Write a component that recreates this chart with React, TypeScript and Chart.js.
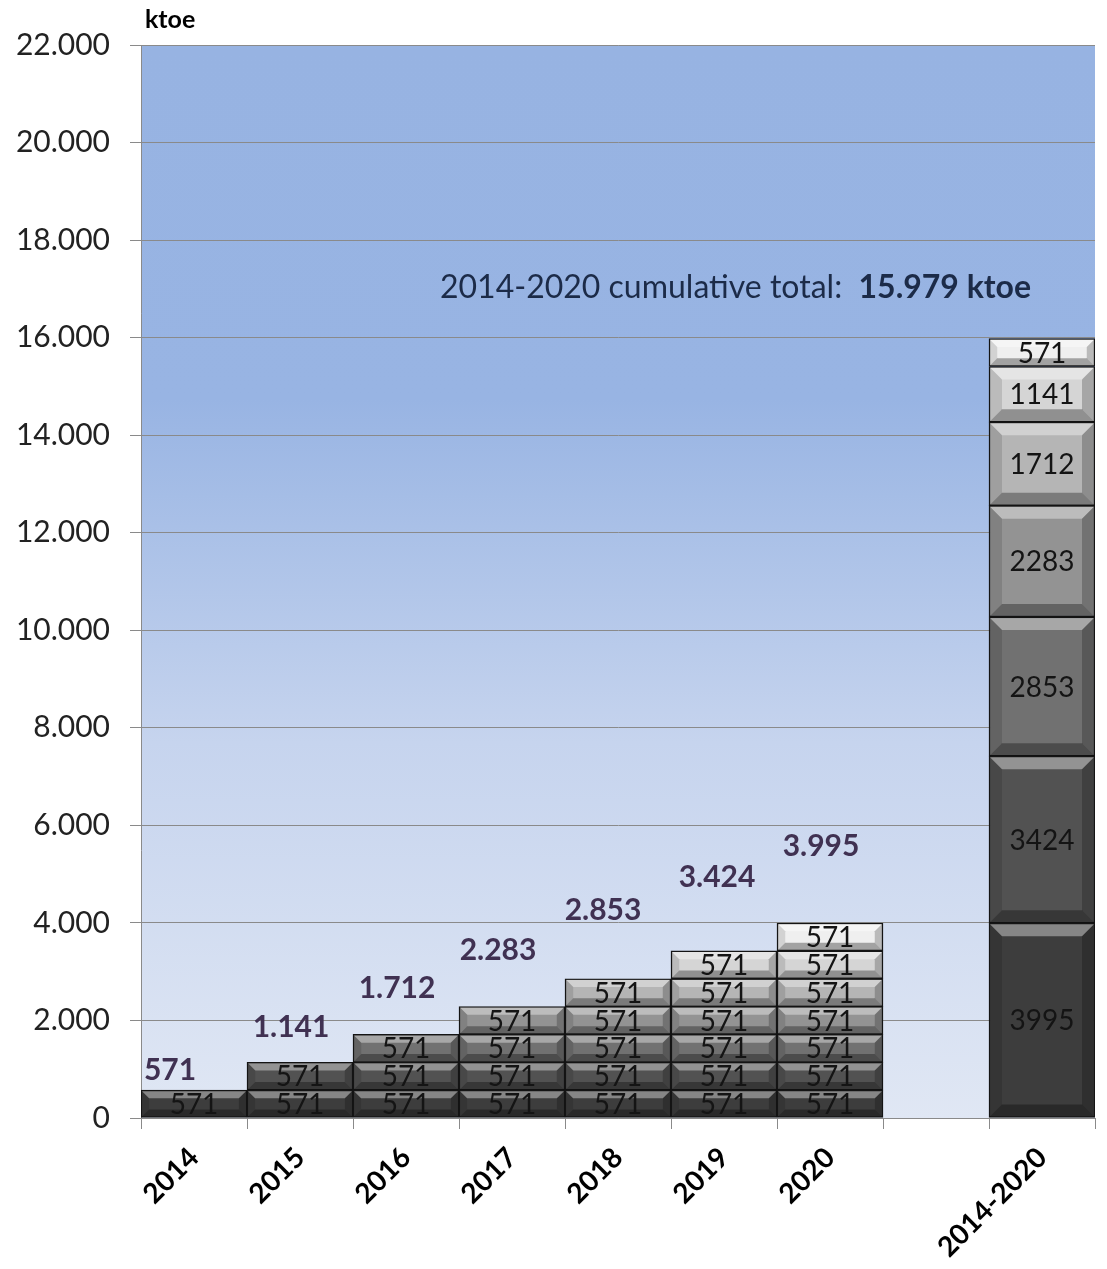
import React, { useEffect, useRef } from "react";
import { Chart, registerables } from "chart.js";

Chart.register(...registerables);

// ---- data ----
const categories = ["2014", "2015", "2016", "2017", "2018", "2019", "2020", "", "2014-2020"];
const yearCount = 7;
// yearly savings layer introduced in each year (repeats in later years)
const yearLayerValues = [571, 571, 571, 571, 571, 571, 571];
// cumulative 2014-2020 contribution of each layer (bottom to top)
const cumulativeLayerValues = [3995, 3424, 2853, 2283, 1712, 1141, 571];
const yearTotalLabels = ["571", "1.141", "1.712", "2.283", "2.853", "3.424", "3.995"];
const cumulativeTotalLabel = "15.979";
const yMin = 0;
const yMax = 22000;
const yStep = 2000;

// ---- styles ----
const layerColors = ["#3d3d3d", "#525252", "#717171", "#939393", "#b5b5b5", "#d5d5d5", "#efefef"];
const totalLabelDx = [-24, -9, -9, -14, -15, -7, -9];
const totalLabelDy = [20, 35, 46, 56, 68, 74, 77];
const FONT = "Lato, 'Open Sans', sans-serif";

const fmt = (v: number) => {
  const s = Math.round(v).toString();
  return s.replace(/\B(?=(\d{3})+(?!\d))/g, ".");
};

const datasets = cumulativeLayerValues.map((cum, j) => ({
  label: "layer " + (j + 1),
  data: categories.map((_, k) => {
    if (k < yearCount) return k >= j ? yearLayerValues[j] : null;
    if (k === categories.length - 1) return cum;
    return null;
  }),
  backgroundColor: layerColors[j],
  borderColor: "#141414",
  borderWidth: 1.5,
  borderSkipped: false as const,
  barPercentage: 1,
  categoryPercentage: 1,
  stack: "s",
}));

const backgroundPlugin = {
  id: "bgGradient",
  beforeDraw(chart: any) {
    const { ctx, chartArea } = chart;
    if (!chartArea) return;
    const g = ctx.createLinearGradient(0, chartArea.top, 0, chartArea.bottom);
    g.addColorStop(0, "#97b3e2");
    g.addColorStop(0.33, "#98b4e3");
    g.addColorStop(0.65, "#c6d4ee");
    g.addColorStop(1, "#e0e7f4");
    ctx.save();
    ctx.fillStyle = g;
    ctx.fillRect(chartArea.left, chartArea.top, chartArea.right - chartArea.left, chartArea.bottom - chartArea.top);
    ctx.restore();
  },
};

const bevelPlugin = {
  id: "bevelLabels",
  afterDatasetsDraw(chart: any) {
    const { ctx, chartArea } = chart;
    ctx.save();
    chart.data.datasets.forEach((ds: any, di: number) => {
      const meta = chart.getDatasetMeta(di);
      meta.data.forEach((el: any, i: number) => {
        const v = ds.data[i];
        if (v == null) return;
        const p = el.getProps(["x", "y", "base", "width"], true);
        const left = p.x - p.width / 2 + 1;
        const right = p.x + p.width / 2 - 1;
        const top = Math.min(p.y, p.base) + 1;
        const bottom = Math.max(p.y, p.base) - 1;
        const h = bottom - top;
        const b = Math.min(12, h * 0.28);
        // top bevel
        ctx.fillStyle = "rgba(255,255,255,0.38)";
        ctx.beginPath();
        ctx.moveTo(left, top);
        ctx.lineTo(right, top);
        ctx.lineTo(right - b, top + b);
        ctx.lineTo(left + b, top + b);
        ctx.closePath();
        ctx.fill();
        // bottom bevel
        ctx.fillStyle = "rgba(0,0,0,0.32)";
        ctx.beginPath();
        ctx.moveTo(left, bottom);
        ctx.lineTo(right, bottom);
        ctx.lineTo(right - b, bottom - b);
        ctx.lineTo(left + b, bottom - b);
        ctx.closePath();
        ctx.fill();
        // left bevel
        ctx.fillStyle = "rgba(0,0,0,0.12)";
        ctx.beginPath();
        ctx.moveTo(left, top);
        ctx.lineTo(left + b, top + b);
        ctx.lineTo(left + b, bottom - b);
        ctx.lineTo(left, bottom);
        ctx.closePath();
        ctx.fill();
        // right bevel
        ctx.fillStyle = "rgba(0,0,0,0.22)";
        ctx.beginPath();
        ctx.moveTo(right, top);
        ctx.lineTo(right - b, top + b);
        ctx.lineTo(right - b, bottom - b);
        ctx.lineTo(right, bottom);
        ctx.closePath();
        ctx.fill();
        // value label
        ctx.fillStyle = "#141414";
        ctx.font = "28px " + FONT;
        ctx.textAlign = "center";
        ctx.textBaseline = "middle";
        ctx.fillText(String(v), p.x, (top + bottom) / 2 + 1);
      });
    });

    // year totals above bars
    ctx.fillStyle = "#403152";
    ctx.font = "bold 30px " + FONT;
    ctx.textAlign = "center";
    ctx.textBaseline = "middle";
    for (let k = 0; k < yearCount; k++) {
      const el = chart.getDatasetMeta(k).data[k];
      if (!el) continue;
      ctx.fillText(yearTotalLabels[k], el.x + totalLabelDx[k], el.y - totalLabelDy[k]);
    }

    // cumulative total annotation
    const yScale = chart.scales.y;
    const ay = yScale.getPixelForValue(17020);
    const ax = chartArea.left + 299;
    ctx.textAlign = "left";
    ctx.fillStyle = "#1c2b48";
    ctx.font = "32px " + FONT;
    const part1 = "2014-2020 cumulative total:  ";
    ctx.fillText(part1, ax, ay);
    const w1 = ctx.measureText(part1).width;
    ctx.font = "bold 32px " + FONT;
    ctx.fillText(cumulativeTotalLabel + " ktoe", ax + w1, ay);

    // unit label
    ctx.fillStyle = "#000";
    ctx.font = "bold 25px " + FONT;
    ctx.fillText("ktoe", chartArea.left + 4, 20);
    ctx.restore();
  },
};

export default function App() {
  const ref = useRef<HTMLCanvasElement | null>(null);
  useEffect(() => {
    if (!ref.current) return;
    const chart = new Chart(ref.current, {
      type: "bar",
      data: { labels: categories, datasets: datasets as any },
      options: {
        animation: false,
        responsive: true,
        maintainAspectRatio: false,
        layout: { padding: { top: 45, right: 12, left: 0, bottom: 0 } },
        plugins: { legend: { display: false }, tooltip: { enabled: false } },
        scales: {
          x: {
            stacked: true,
            offset: true,
            grid: {
              offset: true,
              drawOnChartArea: false,
              drawTicks: true,
              tickLength: 11,
              color: "#8a8a8a",
            },
            border: { color: "#8a8a8a", width: 1 },
            ticks: {
              color: "#000",
              font: { family: FONT, size: 28, weight: "bold" },
              minRotation: 45,
              maxRotation: 45,
              padding: 12,
              autoSkip: false,
            },
            afterFit: (s: any) => {
              s.height = 151;
            },
          },
          y: {
            stacked: true,
            min: yMin,
            max: yMax,
            ticks: {
              stepSize: yStep,
              color: "#222",
              font: { family: FONT, size: 30 },
              padding: 20,
              callback: (v: any) => fmt(Number(v)),
            },
            grid: { color: "#8a8a8a", tickLength: 11, lineWidth: 1 },
            border: { color: "#8a8a8a", width: 1 },
            afterFit: (s: any) => {
              s.width = 141;
            },
          },
        },
      },
      plugins: [backgroundPlugin, bevelPlugin],
    });
    return () => chart.destroy();
  }, []);
  return (
    <div style={{ position: "absolute", left: 0, top: 0, width: 1107, height: 1269, background: "#fff" }}>
      <canvas ref={ref} />
    </div>
  );
}
